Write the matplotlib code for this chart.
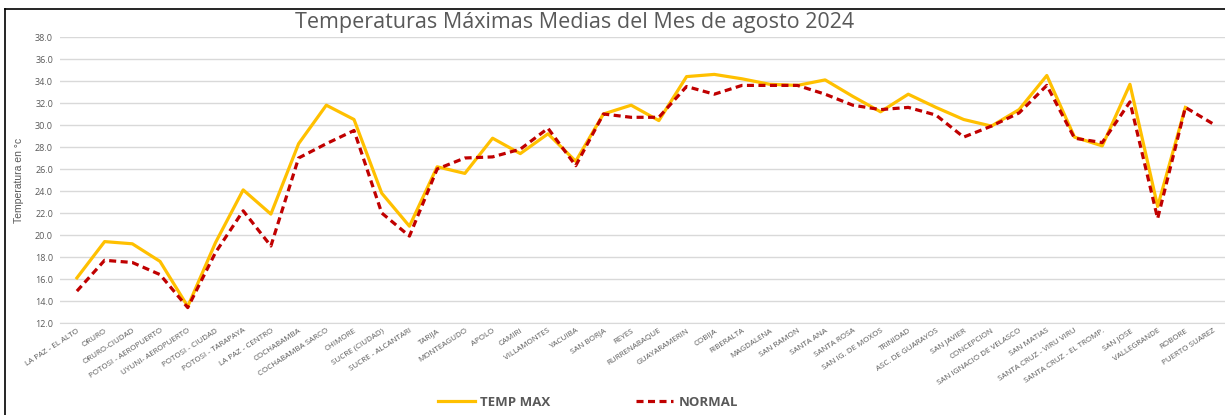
import numpy as np
import matplotlib
matplotlib.use("Agg")
import matplotlib.pyplot as plt
from matplotlib.lines import Line2D

# Stations (x axis)
estaciones = [
    "LA PAZ - EL ALTO", "ORURO", "ORURO-CIUDAD", "POTOSI - AEROPUERTO",
    "UYUNI- AEROPUERTO", "POTOSI - CIUDAD", "POTOSI - TARAPAYA", "LA PAZ - CENTRO",
    "COCHABAMBA", "COCHABAMBA SARCO", "CHIMORE", "SUCRE (CIUDAD)",
    "SUCRE - ALCANTARI", "TARIJA", "MONTEAGUDO", "APOLO", "CAMIRI",
    "VILLAMONTES", "YACUIBA", "SAN BORJA", "REYES", "RURRENABAQUE",
    "GUAYARAMERIN", "COBIJA", "RIBERALTA", "MAGDALENA", "SAN RAMON",
    "SANTA ANA", "SANTA ROSA", "SAN IG. DE MOXOS", "TRINIDAD",
    "ASC. DE GUARAYOS", "SAN JAVIER", "CONCEPCION", "SAN IGNACIO DE VELASCO",
    "SAN MATIAS", "SANTA CRUZ - VIRU VIRU", "SANTA CRUZ - EL TROMP.",
    "SAN JOSE", "VALLEGRANDE", "ROBORE", "PUERTO SUAREZ",
]

# Mean max temperature, August 2024 (no value for Puerto Suarez)
temp_max = [
    16.1, 19.4, 19.2, 17.6, 13.5, 19.3, 24.1, 21.9, 28.3, 31.8, 30.5, 23.8,
    20.8, 26.2, 25.6, 28.8, 27.4, 29.2, 26.7, 31.0, 31.8, 30.4, 34.4, 34.6,
    34.2, 33.7, 33.6, 34.1, 32.6, 31.2, 32.8, 31.6, 30.5, 29.9, 31.4, 34.5,
    28.9, 28.1, 33.7, 22.6, 31.6, np.nan,
]

# Normal values
normal = [
    14.9, 17.7, 17.5, 16.4, 13.4, 18.4, 22.2, 19.0, 27.0, 28.3, 29.5, 22.0,
    19.9, 26.0, 27.0, 27.1, 27.8, 29.7, 26.3, 31.0, 30.7, 30.7, 33.5, 32.8,
    33.6, 33.6, 33.6, 32.8, 31.8, 31.4, 31.6, 30.9, 28.9, 29.9, 31.1, 33.6,
    28.8, 28.4, 32.1, 21.5, 31.6, 30.1,
]

gris = "#595959"
plt.rcParams["font.family"] = ["Open Sans", "DejaVu Sans"]

fig = plt.figure(figsize=(12.25, 4.15), dpi=100)
ax = fig.add_axes([60 / 1225, 1 - 323 / 415, 1165 / 1225, 286 / 415])

x = np.arange(len(estaciones))
ax.plot(x, temp_max, color="#FFC000", lw=2.3, label="TEMP MAX", zorder=3)
ax.plot(x, normal, color="#C00000", lw=2.3, ls=(0, (2.2, 1.4)),
        label="NORMAL", zorder=4)

ax.set_ylim(12, 38)
ax.set_yticks(np.arange(12, 38.1, 2))
ax.set_yticklabels([f"{v:.1f}" for v in np.arange(12, 38.1, 2)])
ax.set_xlim(-0.61, len(estaciones) - 1 + 0.43)
ax.set_xticks(x)
ax.set_xticklabels(estaciones, rotation=33, ha="right",
                   rotation_mode="anchor", fontsize=5.8, color=gris)
ax.tick_params(axis="y", labelsize=6.5, labelcolor=gris, length=0, pad=5)
ax.tick_params(axis="x", length=0, pad=3)

ax.grid(axis="y", color="#d9d9d9", lw=1)
for s in ["top", "right", "left"]:
    ax.spines[s].set_visible(False)
ax.spines["bottom"].set_color("#d9d9d9")

ax.set_ylabel("Temperatura en °c", fontsize=7.5, color=gris,
              family=["Liberation Sans", "DejaVu Sans"], labelpad=8)

fig.text(0.469, 1 - 28 / 415, "Temperaturas Máximas Medias del Mes de agosto 2024",
         ha="center", va="baseline", fontsize=15.5, color=gris)

# legend
handles = [
    Line2D([], [], color="#FFC000", lw=2.3),
    Line2D([], [], color="#C00000", lw=2.3, ls=(0, (2.2, 1.4))),
]
fig.legend(handles, ["TEMP MAX", "NORMAL"], loc="center",
           bbox_to_anchor=(0.48, 0.03), ncol=2, frameon=False,
           prop={"size": 9.5, "weight": "bold"}, labelcolor=gris,
           handlelength=2.8, handletextpad=0.4, columnspacing=6.5)

# frame lines (top and left)
fig.add_artist(Line2D([5 / 1225, 1], [1 - 9 / 415] * 2, color="black", lw=1.2))
fig.add_artist(Line2D([5 / 1225] * 2, [0, 1 - 9 / 415], color="black", lw=1.2))

fig.savefig("out.png", dpi=100)
